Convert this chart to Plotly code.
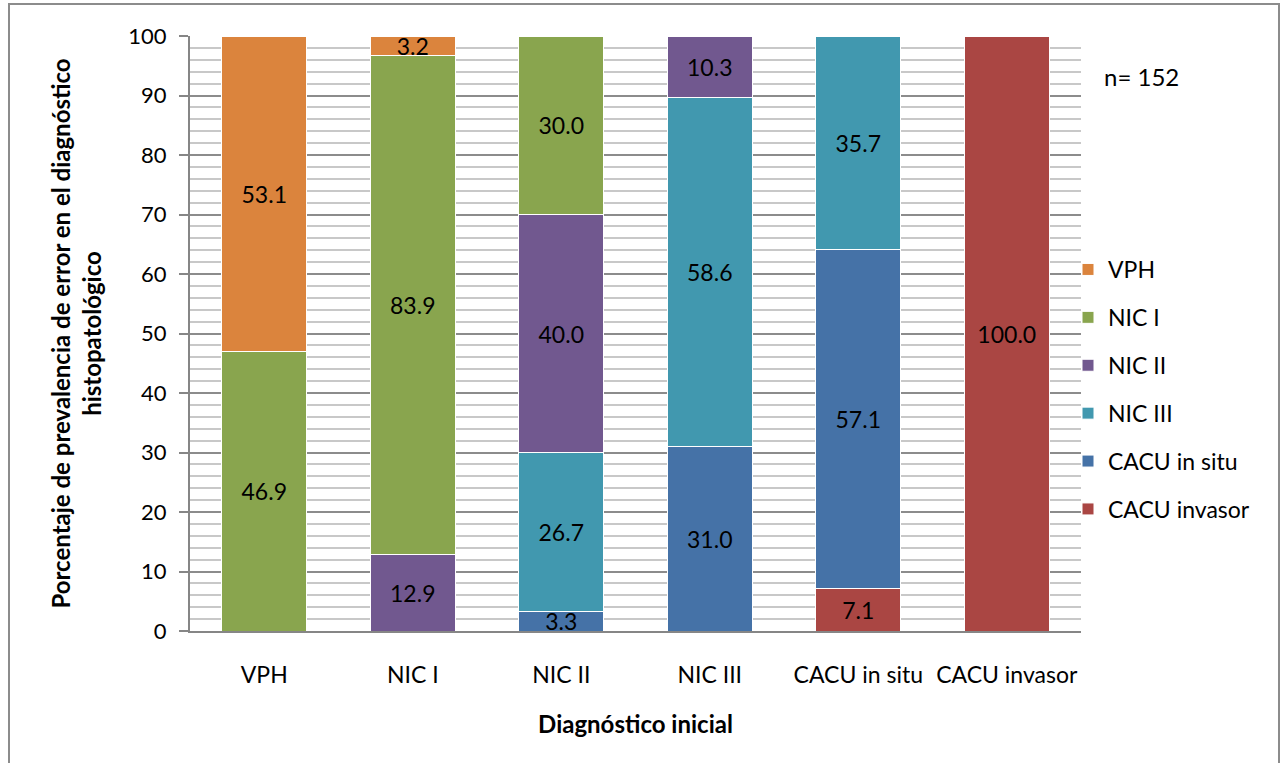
import plotly.graph_objects as go

# Initial diagnosis (x axis categories)
categories = ["VPH", "NIC I", "NIC II", "NIC III", "CACU in situ", "CACU invasor"]

# Percentage of each histopathological result per initial diagnosis
vph = [53.1, 3.2, None, None, None, None]
nic_i = [46.9, 83.9, 30.0, None, None, None]
nic_ii = [None, 12.9, 40.0, 10.3, None, None]
nic_iii = [None, None, 26.7, 58.6, 35.7, None]
cacu_in_situ = [None, None, 3.3, 31.0, 57.1, None]
cacu_invasor = [None, None, None, None, 7.1, 100.0]

y_ticks = [0, 10, 20, 30, 40, 50, 60, 70, 80, 90, 100]
sample_label = "n= 152"

# stacking order bottom -> top; legend lists them top -> bottom
series = [
    ("CACU invasor", cacu_invasor, "#AA4643"),
    ("CACU in situ", cacu_in_situ, "#4572A7"),
    ("NIC III", nic_iii, "#4198AF"),
    ("NIC II", nic_ii, "#71588F"),
    ("NIC I", nic_i, "#89A54E"),
    ("VPH", vph, "#DB843D"),
]

FONT = "Lato"

fig = go.Figure()
for i, (name, vals, color) in enumerate(series):
    fig.add_trace(go.Bar(
        name=name,
        x=categories,
        y=vals,
        legendgroup=name,
        legendrank=len(series) - i,
        marker=dict(color=color, line=dict(color="white", width=1)),
        text=["" if v is None else f"{v:.1f}" for v in vals],
        textposition="inside",
        insidetextanchor="middle",
        textangle=0,
        textfont=dict(family=FONT, size=23, color="black"),
    ))

L, R, T, B = 190, 203, 36, 132
W, H = 1284, 763
pw, ph = W - L - R, H - T - B


def px(x):
    return (x - L) / pw


def py(y):
    return (H - B - y) / ph


fig.update_layout(
    width=W,
    height=H,
    margin=dict(l=L, r=R, t=T, b=B),
    barmode="stack",
    bargap=0.43,
    plot_bgcolor="white",
    paper_bgcolor="white",
    font=dict(family=FONT, size=23, color="black"),
    uniformtext=dict(minsize=23, mode="show"),
    showlegend=True,
    legend=dict(
        traceorder="grouped",
        tracegroupgap=15,
        x=px(1068),
        y=py(248),
        xanchor="left",
        yanchor="top",
        font=dict(family=FONT, size=23),
        itemwidth=30,
        bgcolor="rgba(0,0,0,0)",
    ),
    xaxis=dict(
        title=dict(text="<b>Diagnóstico inicial</b>", font=dict(family=FONT, size=24), standoff=30),
        showline=True,
        linecolor="#868686",
        linewidth=2,
        ticks="",
        ticklabelstandoff=22,
        tickfont=dict(family=FONT, size=23),
    ),
    yaxis=dict(
        title=dict(
            text="<b>Porcentaje de prevalencia de error en el diagnóstico<br>histopatológico</b>",
            font=dict(family=FONT, size=24),
            standoff=20,
        ),
        range=[0, 100],
        tickvals=y_ticks,
        showline=True,
        linecolor="#868686",
        linewidth=2,
        ticks="outside",
        ticklen=9,
        tickcolor="#868686",
        tickwidth=2,
        ticklabelstandoff=8,
        tickfont=dict(family=FONT, size=22),
        showgrid=True,
        gridcolor="#8C8C8C",
        gridwidth=2,
        minor=dict(dtick=2, showgrid=True, gridcolor="#C8C8C8", gridwidth=2, ticks=""),
        zeroline=False,
    ),
    shapes=[
        dict(type="rect", xref="paper", yref="paper",
             x0=px(9), x1=px(1279), y0=py(768), y1=py(4),
             line=dict(color="#8C8C8C", width=2), fillcolor="rgba(0,0,0,0)", layer="below"),
    ],
    annotations=[
        dict(text=sample_label, xref="paper", yref="paper", x=px(1102), y=py(77),
             xanchor="left", yanchor="middle", showarrow=False,
             font=dict(family=FONT, size=24, color="black")),
    ],
)

fig.write_html("out.html")
